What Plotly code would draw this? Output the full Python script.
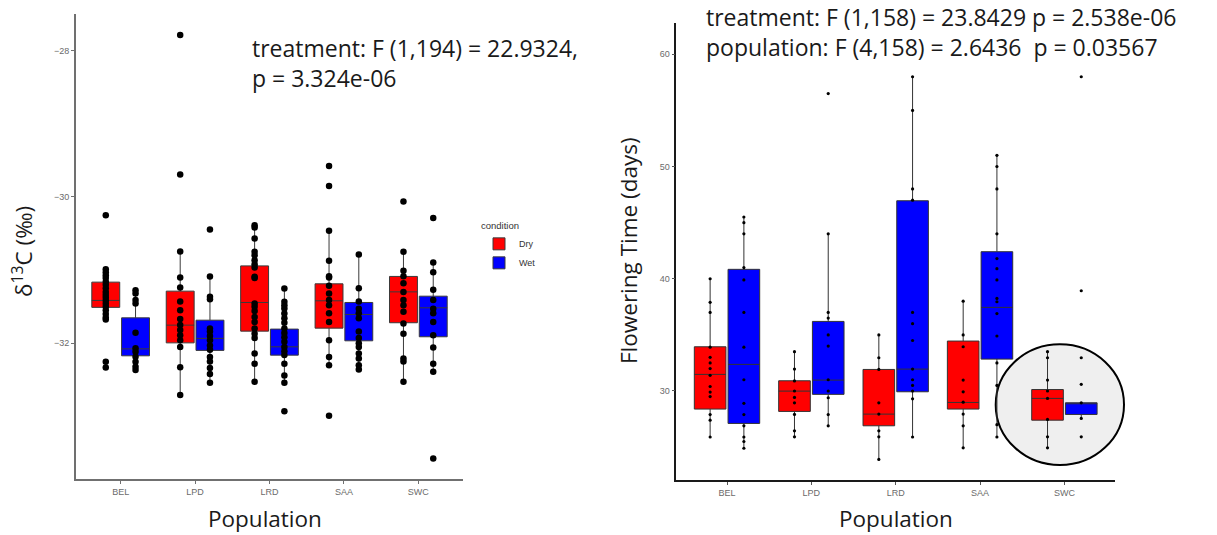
import plotly.graph_objects as go

# ---------------- data ----------------
populations = ["BEL", "LPD", "LRD", "SAA", "SWC"]
conditions = ["Dry", "Wet"]

# Left panel: delta 13C (per mil) box statistics
d13c_dry_q1 = [-31.51, -31.995, -31.835, -31.794, -31.72]
d13c_dry_median = [-31.415, -31.753, -31.443, -31.42, -31.298]
d13c_dry_q3 = [-31.165, -31.288, -30.943, -31.188, -31.087]
d13c_dry_low = [-31.675, -32.709, -32.527, -32.30, -32.527]
d13c_dry_high = [-30.99, -30.746, -30.387, -30.464, -30.751]

d13c_wet_q1 = [-32.172, -32.098, -32.163, -31.967, -31.912]
d13c_wet_median = [-32.077, -31.934, -32.049, -31.607, -31.516]
d13c_wet_q3 = [-31.653, -31.685, -31.807, -31.443, -31.357]
d13c_wet_low = [-32.367, -32.54, -32.54, -32.37, -32.39]
d13c_wet_high = [-31.275, -31.087, -31.252, -30.797, -30.896]

d13c_dry_points = [
    [-30.25, -30.99, -31.03, -31.07, -31.11, -31.16, -31.2, -31.25, -31.3, -31.34,
     -31.38, -31.42, -31.46, -31.5, -31.55, -31.6, -31.65, -31.675, -32.254, -32.331],
    [-27.787, -29.694, -30.746, -31.10, -31.24, -31.43, -31.55, -31.67, -31.75, -31.82,
     -31.89, -31.96, -32.05, -32.33, -32.709],
    [-30.387, -30.418, -30.568, -30.751, -30.797, -30.865, -30.92, -30.965, -31.09, -31.107,
     -31.457, -31.5, -31.56, -31.64, -31.71, -31.80, -31.87, -31.93, -32.14, -32.28, -32.527],
    [-29.576, -29.85, -30.464, -30.874, -31.083, -31.10, -31.216, -31.32, -31.41, -31.48,
     -31.59, -31.71, -31.96, -32.19, -32.30, -32.99],
    [-30.063, -30.751, -31.01, -31.083, -31.18, -31.30, -31.41, -31.48, -31.57, -31.73,
     -31.87, -32.21, -32.25, -32.527],
]
d13c_wet_points = [
    [-31.275, -31.32, -31.41, -31.456, -31.858, -32.07, -32.117, -32.186, -32.254, -32.322, -32.367],
    [-30.446, -31.087, -31.366, -31.40, -31.80, -31.84, -31.90, -31.96, -32.03, -32.09,
     -32.19, -32.25, -32.34, -32.42, -32.54],
    [-31.252, -31.434, -31.48, -31.525, -31.593, -31.66, -31.72, -31.80, -31.86, -31.92,
     -31.98, -32.05, -32.11, -32.16, -32.28, -32.44, -32.54, -32.93],
    [-30.787, -31.25, -31.43, -31.53, -31.59, -31.66, -31.84, -31.93, -32.00, -32.05,
     -32.14, -32.21, -32.30, -32.36],
    [-30.287, -30.896, -31.03, -31.27, -31.41, -31.53, -31.59, -31.71, -31.89, -32.06,
     -32.28, -32.39, -33.574],
]

# Right panel: flowering time (days) box statistics
flower_dry_q1 = [28.39, 28.18, 26.9, 28.39, 27.4]
flower_dry_median = [31.48, 29.99, 27.94, 28.98, 29.34]
flower_dry_q3 = [33.94, 30.91, 31.92, 34.45, 30.13]
flower_dry_low = [25.92, 25.92, 23.9, 24.94, 24.94]
flower_dry_high = [39.95, 33.5, 34.98, 37.95, 33.5]

flower_wet_q1 = [27.11, 29.7, 29.93, 32.84, 27.91]
flower_wet_median = [32.37, 30.97, 31.95, 37.45, 28.95]
flower_wet_q3 = [40.84, 36.2, 46.95, 42.41, 28.95]
flower_wet_low = [24.88, 26.93, 25.92, 25.92, 27.56]
flower_wet_high = [45.5, 43.98, 58.07, 50.96, 28.95]

flower_dry_points = [
    [40, 37.9, 37.0, 33.9, 33.0, 32.5, 32.0, 31.4, 30.4, 29.9, 29.5, 27.9, 27.4, 25.9],
    [33.5, 31.95, 30.9, 30.0, 29.43, 28.95, 27.91, 26.45, 25.92],
    [35, 32.96, 31.92, 28.95, 27.94, 26.45, 25.92, 23.9],
    [38, 35, 33.94, 30.97, 29.93, 29, 27.94, 26.9, 24.94],
    [33.5, 32.96, 30.97, 30.0, 29.34, 27.47, 25.92, 24.94],
]
flower_wet_points = [
    [45.5, 45.0, 44.0, 41.0, 39.9, 37.0, 33.9, 31.0, 28.9, 27.9, 26.9, 25.9, 25.5, 24.9],
    [56.5, 44, 37, 36.5, 35, 34, 31, 30, 29.4, 27.9, 26.9],
    [58, 55, 48, 47, 37, 36, 34.5, 31.95, 31, 30.5, 30, 29.3, 25.9],
    [51, 50, 48, 44, 41.8, 40.9, 39.9, 38.25, 37.95, 36.9, 34.9, 32.5, 30.5, 27, 25.9],
    [58, 38.93, 32.96, 30.59, 28.95, 27.56, 25.92],
]

left_title_text = ["treatment: F (1,194) = 22.9324,", "p = 3.324e-06"]
right_title_text = ["treatment: F (1,158) = 23.8429 p = 2.538e-06",
                    "population: F (4,158) = 2.6436  p = 0.03567"]

# ---------------- styling ----------------
W, H = 1217, 535
fill = {"Dry": "#ff0000", "Wet": "#0000ff"}
offset = {"Dry": -0.2, "Wet": 0.2}
BOX_W = 0.375


def px_x(p):
    return p / W


def px_y(p):
    return 1 - p / H


fig = go.Figure()

panels = [
    dict(xa="x", ya="y",
         stats={"Dry": (d13c_dry_q1, d13c_dry_median, d13c_dry_q3, d13c_dry_low, d13c_dry_high),
                "Wet": (d13c_wet_q1, d13c_wet_median, d13c_wet_q3, d13c_wet_low, d13c_wet_high)},
         pts={"Dry": d13c_dry_points, "Wet": d13c_wet_points},
         msize=6.5, legend=True, lcol="#3a3a3a"),
    dict(xa="x2", ya="y2",
         stats={"Dry": (flower_dry_q1, flower_dry_median, flower_dry_q3, flower_dry_low, flower_dry_high),
                "Wet": (flower_wet_q1, flower_wet_median, flower_wet_q3, flower_wet_low, flower_wet_high)},
         pts={"Dry": flower_dry_points, "Wet": flower_wet_points},
         msize=3.2, legend=False, lcol="#333333"),
]

for pn in panels:
    for cond in conditions:
        q1, med, q3, lo, hi = pn["stats"][cond]
        xs = [i + 1 + offset[cond] for i in range(len(populations))]
        fig.add_trace(go.Box(
            x=xs, q1=q1, median=med, q3=q3, lowerfence=lo, upperfence=hi,
            width=BOX_W, whiskerwidth=0, boxpoints=False,
            fillcolor=fill[cond], line=dict(color=pn["lcol"], width=1),
            name=cond, showlegend=pn["legend"], legendgroup=cond,
            xaxis=pn["xa"], yaxis=pn["ya"], hoverinfo="skip",
        ))
    for cond in conditions:
        px_, py_ = [], []
        for i, vals in enumerate(pn["pts"][cond]):
            px_ += [i + 1 + offset[cond]] * len(vals)
            py_ += vals
        fig.add_trace(go.Scatter(
            x=px_, y=py_, mode="markers",
            marker=dict(color="black", size=pn["msize"]),
            showlegend=False, xaxis=pn["xa"], yaxis=pn["ya"], hoverinfo="skip",
        ))

tickfont = dict(family="Liberation Sans, Arial", size=9, color="#6b6b6b")
axis_common = dict(showgrid=False, zeroline=False, showline=True, ticks="outside",
                   ticklen=3, tickfont=tickfont)

fig.update_layout(
    width=W, height=H,
    margin=dict(l=0, r=0, t=0, b=0),
    paper_bgcolor="white", plot_bgcolor="rgba(0,0,0,0)",
    showlegend=True,
    xaxis=dict(domain=[px_x(76), px_x(463)], anchor="y", range=[0.4, 5.6],
               tickvals=[1, 2, 3, 4, 5], ticktext=populations,
               linecolor="#707070", linewidth=2, tickcolor="#707070", **axis_common),
    yaxis=dict(domain=[px_y(479.3), px_y(14)], anchor="x", range=[-33.86, -27.50],
               tickvals=[-28, -30, -32],
               linecolor="#707070", linewidth=2, tickcolor="#707070", **axis_common),
    xaxis2=dict(domain=[px_x(676.4), px_x(1115)], anchor="y2", range=[0.4, 5.6],
                tickvals=[1, 2, 3, 4, 5], ticktext=populations,
                linecolor="#1a1a1a", linewidth=1.5, tickcolor="#555555", **axis_common),
    yaxis2=dict(domain=[px_y(480), px_y(23.3)], anchor="x2", range=[22.07, 62.76],
                tickvals=[30, 40, 50, 60],
                linecolor="#1a1a1a", linewidth=1.5, tickcolor="#555555", **axis_common),
    legend=dict(x=px_x(479), y=px_y(217), xanchor="left", yanchor="top",
                title=dict(text="condition", font=dict(size=9.5, color="#333")),
                font=dict(family="Liberation Sans, Arial", size=9, color="#333"),
                bgcolor="rgba(0,0,0,0)", itemwidth=30, tracegroupgap=0),
)

# highlight circle around SWC (right panel)
fig.add_shape(type="circle", xref="paper", yref="paper",
              x0=px_x(995.7), x1=px_x(1124), y0=px_y(465), y1=px_y(344.3),
              fillcolor="#efefef", line=dict(color="black", width=2), layer="below")

big = dict(family="Open Sans", size=23, color="#1a1a1a")
title_font = dict(family="Open Sans", size=22.5, color="#1a1a1a")
ann = []
for k, t in enumerate(left_title_text):
    ann.append(dict(text=t, x=px_x(250), y=px_y(48 + 30 * k), xref="paper", yref="paper",
                    xanchor="left", yanchor="middle", showarrow=False, font=big))
for k, t in enumerate(right_title_text):
    ann.append(dict(text=t, x=px_x(704), y=px_y(17 + 30 * k), xref="paper", yref="paper",
                    xanchor="left", yanchor="middle", showarrow=False, font=big))
ann.append(dict(text="Population", x=px_x(265), y=px_y(518), xref="paper", yref="paper",
                xanchor="center", yanchor="middle", showarrow=False, font=title_font))
ann.append(dict(text="Population", x=px_x(896), y=px_y(518), xref="paper", yref="paper",
                xanchor="center", yanchor="middle", showarrow=False, font=title_font))
ann.append(dict(text="δ<sup>13</sup>C (‰)", x=px_x(22), y=px_y(252), xref="paper", yref="paper",
                xanchor="center", yanchor="middle", textangle=-90, showarrow=False, font=title_font))
ann.append(dict(text="Flowering Time (days)", x=px_x(628), y=px_y(251), xref="paper", yref="paper",
                xanchor="center", yanchor="middle", textangle=-90, showarrow=False, font=title_font))
fig.update_layout(annotations=ann)

fig.write_html("out.html")
